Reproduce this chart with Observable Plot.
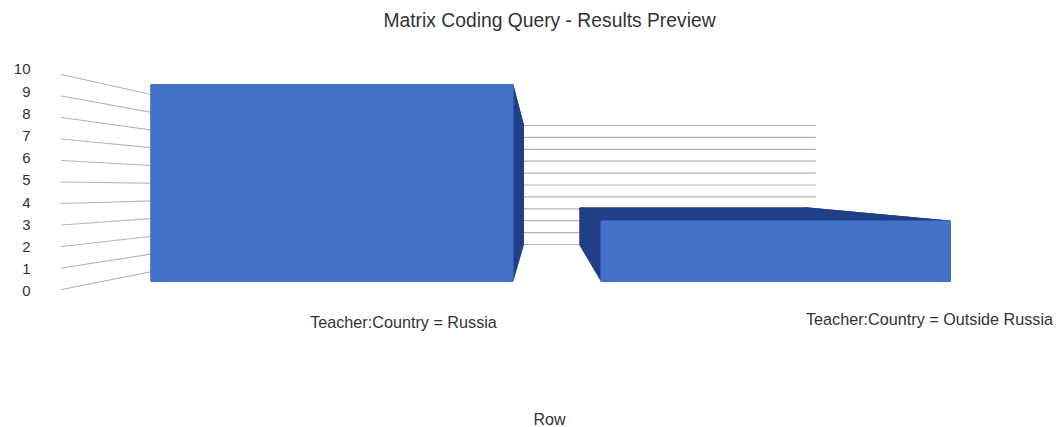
<!DOCTYPE html>
<html><head><meta charset="utf-8">
<script src="https://cdn.jsdelivr.net/npm/d3@7"></script>
<script src="https://cdn.jsdelivr.net/npm/@observablehq/plot@0.6"></script>
<style>html,body{margin:0;padding:0;background:#fff}svg{display:block}</style>
</head><body><div id="chart"></div>
<script>
// Data
const categories = ["Teacher:Country = Russia", "Teacher:Country = Outside Russia"];
const values = [10, 3];
const tickValues = [0,1,2,3,4,5,6,7,8,9,10];
const chartTitle = "Matrix Coding Query - Results Preview";
const axisTitle = "Row";

// Perspective of the 3D chart: slot position u, value v, depth plane
const slots = [[0, 1], [1.25, 2.215]];
const wallEnd = 2.257;
const planes = {
  axis:  {x: [61, 0],     y: [289, 74]},
  front: {x: [151.5, 360],y: [280, 85]},
  back:  {x: [289, 233],  y: [244, 125]},
  label: {x: [30, 0],     y: [291, 69]}
};
const px = (p, u) => planes[p].x[0] + planes[p].x[1] * u;
const py = (p, v) => planes[p].y[0] + (planes[p].y[1] - planes[p].y[0]) * v / 10;

const grid = tickValues.flatMap(v => [
  {id: v, x: px("axis", 0), y: py("axis", v)},
  {id: v, x: px("back", 0), y: py("back", v)},
  {id: v, x: px("back", wallEnd), y: py("back", v)}
]);

const W = 1056, H = 427;
const blueC = "#4472cb", darkC = "#1f3f87";
const facesData = categories.flatMap((c, i) => {
  const [a, b] = slots[i], v = values[i];
  const q = (p, u, w) => ({x: px(p, u), y: py(p, w)});
  const face = (color, pts) => pts.concat([pts[0]]).map(d => ({...d, color}));
  return [
    face(darkC, [q("front",a,v), q("back",a,v), q("back",b,v), q("front",b,v)]),
    face(darkC, [q("front",a,v), q("back",a,v), q("back",a,0), q("front",a,0)]),
    face(darkC, [q("front",b,v), q("back",b,v), q("back",b,0), q("front",b,0)]),
    face(blueC, [q("front",a,v), q("front",b,v), q("front",b,0), q("front",a,0)])
  ];
});
const faceMarks = facesData.map(f => Plot.line(f, {
  x: "x", y: "y", fill: f[0].color, stroke: f[0].color, strokeWidth: 3, strokeLinejoin: "round"
}));
const font = "Liberation Sans, Arial, sans-serif";
const labelPos = [{x: 403, y: 322}, {x: 929, y: 319}];
const plot = Plot.plot({
  width: W, height: H, margin: 0,
  x: {domain: [0, W], range: [0, W], axis: null},
  y: {domain: [0, H], range: [0, H], axis: null},
  style: {fontFamily: font, background: "#fff"},
  marks: [
    Plot.line(grid, {x: "x", y: "y", z: "id", stroke: "#b4b4b4", strokeWidth: 1.2}),
    ...faceMarks,
    Plot.text(tickValues, {x: () => px("label", 0), y: d => py("label", d), text: d => String(d), textAnchor: "end", fontSize: 15, fill: "#333"}),
    Plot.text(categories, {x: (d, i) => labelPos[i].x, y: (d, i) => labelPos[i].y, text: d => d, fontSize: 16.2, fill: "#333"}),
    Plot.text([chartTitle], {x: () => 549, y: () => 20, text: d => d, fontSize: 19.3, fill: "#333"}),
    Plot.text([axisTitle], {x: () => 549, y: () => 419, text: d => d, fontSize: 16, fill: "#333"})
  ]
});
document.getElementById("chart").appendChild(plot);
</script>
</body></html>
